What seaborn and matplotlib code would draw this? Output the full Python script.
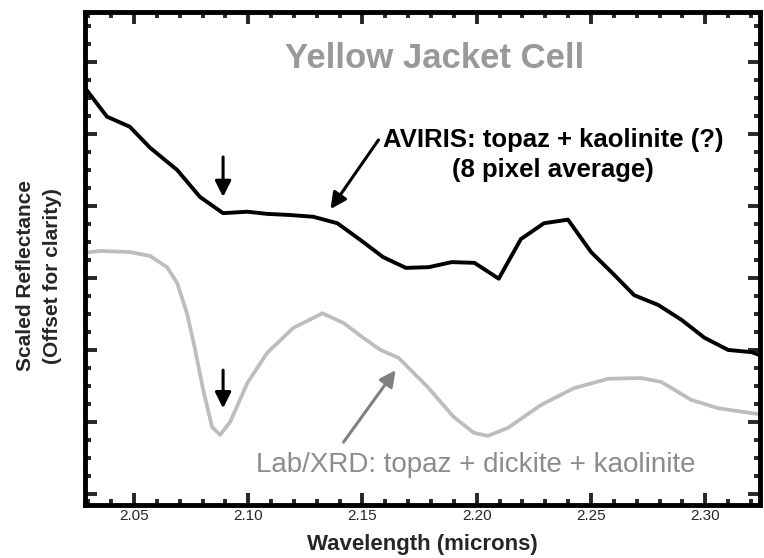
import numpy as np
import pandas as pd
import seaborn as sns
import matplotlib.pyplot as plt
from matplotlib.ticker import MultipleLocator

# AVIRIS spectrum (8 pixel average), wavelength in microns
aviris_wl = [2.0276, 2.0382, 2.0482, 2.0570, 2.0689, 2.0789, 2.0890, 2.0996,
             2.1083, 2.1180, 2.1285, 2.1390, 2.1490, 2.1590, 2.1690, 2.1790,
             2.1890, 2.1990, 2.2096, 2.2193, 2.2294, 2.2399, 2.2500, 2.2596,
             2.2689, 2.2794, 2.2895, 2.2996, 2.3100, 2.3202, 2.3263]
aviris_refl = [0.668, 0.624, 0.610, 0.581, 0.550, 0.5125, 0.490, 0.492,
               0.489, 0.4875, 0.485, 0.476, 0.453, 0.429, 0.414, 0.415,
               0.422, 0.421, 0.399, 0.454, 0.476, 0.481, 0.436, 0.406,
               0.376, 0.3625, 0.342, 0.317, 0.300, 0.297, 0.290]

# Lab/XRD spectrum
lab_wl = [2.0276, 2.0351, 2.0482, 2.0570, 2.0645, 2.0689, 2.0732, 2.0768,
          2.0803, 2.0842, 2.0877, 2.0921, 2.0996, 2.1083, 2.1197, 2.1325,
          2.1417, 2.1504, 2.1579, 2.1658, 2.1785, 2.1899, 2.1987, 2.2048,
          2.2136, 2.2281, 2.2425, 2.2575, 2.2719, 2.2807, 2.2939, 2.3057,
          2.3259]
lab_refl = [0.4347, 0.4375, 0.436, 0.4306, 0.415, 0.393, 0.351, 0.300,
            0.2444, 0.193, 0.182, 0.200, 0.254, 0.296, 0.3306, 0.351,
            0.3375, 0.3167, 0.300, 0.289, 0.2486, 0.207, 0.185, 0.1806,
            0.1917, 0.2236, 0.247, 0.260, 0.261, 0.2556, 0.2306, 0.219,
            0.2097]

title_text = "Yellow Jacket Cell"
aviris_label = "AVIRIS: topaz + kaolinite (?)\n(8 pixel average)"
lab_label = "Lab/XRD: topaz + dickite + kaolinite"

sns.set_style("ticks")
plt.rcParams['font.family'] = ['Liberation Sans', 'DejaVu Sans']

fig = plt.figure(figsize=(7.64, 5.58), dpi=100)
ax = fig.add_axes([0.111, 0.095, 0.884, 0.883])

sns.lineplot(x=lab_wl, y=lab_refl, ax=ax, color="#bdbdbd", linewidth=2.7, sort=False)
sns.lineplot(x=aviris_wl, y=aviris_refl, ax=ax, color="black", linewidth=2.8, sort=False)

ax.set_xlim(2.0285, 2.324)
ax.set_ylim(0.0847, 0.769)
ax.xaxis.set_major_locator(MultipleLocator(0.05))
ax.xaxis.set_minor_locator(MultipleLocator(0.01))
ax.yaxis.set_major_locator(MultipleLocator(0.1))
ax.yaxis.set_minor_locator(MultipleLocator(0.025))
ax.set_xticklabels([f"{v:.2f}" for v in ax.get_xticks()])
ax.tick_params(which="both", direction="in", top=True, right=True, width=2.8)
ax.tick_params(which="major", length=8.5)
ax.tick_params(which="minor", length=4)
ax.tick_params(axis="y", labelleft=False)
ax.tick_params(axis="x", labelsize=11, pad=3)
for s in ax.spines.values():
    s.set_linewidth(3.5)
    s.set_color("black")

ax.set_xlabel("Wavelength (microns)", fontsize=16, fontweight="bold", labelpad=8)
ax.set_ylabel("Scaled Reflectance\n(Offset for clarity)", fontsize=15,
              fontweight="bold", linespacing=1.5)
ax.yaxis.set_label_coords(-0.034, 0.465)

ax.text(2.1816, 0.6917, title_text, ha="center", va="baseline", fontsize=25,
        fontweight="bold", color="#999999")
ax.text(2.2335, 0.5708, aviris_label, ha="center", va="center", fontsize=18.5,
        fontweight="bold", color="black", linespacing=1.3)
ax.text(2.1996, 0.1306, lab_label, ha="center", va="baseline", fontsize=20,
        color="#8c8c8c")

# arrows marking the 2.09 micron feature and pointing at the spectra
arrow_kw = dict(arrowstyle="-|>", color="black", lw=2.2, mutation_scale=24,
                shrinkA=0, shrinkB=0)
ax.annotate("", xy=(aviris_wl[6], 0.5125), xytext=(aviris_wl[6], 0.568),
            arrowprops=arrow_kw)
ax.annotate("", xy=(aviris_wl[6], 0.219), xytext=(aviris_wl[6], 0.272),
            arrowprops=arrow_kw)
ax.annotate("", xy=(2.136, 0.4958), xytext=(2.157, 0.5917), arrowprops=arrow_kw)
ax.annotate("", xy=(2.1645, 0.272), xytext=(2.1417, 0.172),
            arrowprops=dict(arrow_kw, color="#808080"))

fig.savefig("out.png", dpi=100)
